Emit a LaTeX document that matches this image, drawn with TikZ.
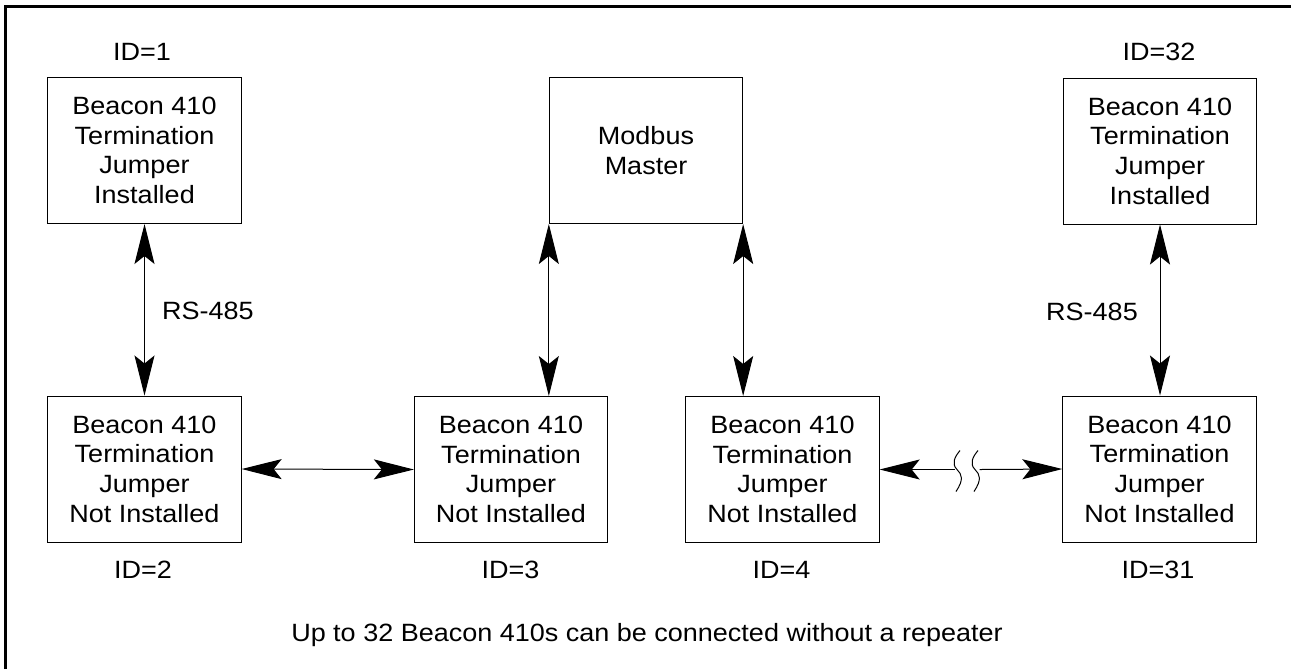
\documentclass[tikz,border=0pt]{standalone}
\usepackage{fontspec}
\setmainfont{Liberation Sans}[FakeStretch=1.08]
\usetikzlibrary{arrows.meta}

\tikzset{every picture/.style={line width=0.75pt}}
\tikzset{
  unitbox/.style={draw, minimum width=145pt, minimum height=109.5pt, inner sep=0pt, align=center, font=\fontsize{18.75}{22.3}\selectfont},
  lbl/.style={anchor=base, inner sep=0pt, font=\fontsize{18.75}{22.3}\selectfont},
  link/.style={{Stealth[length=30pt,width=15pt,inset=6pt]}-{Stealth[length=30pt,width=15pt,inset=6pt]}},
  frameline/.style={line width=2.25pt},
}

\begin{document}
\begin{tikzpicture}[x=0.75pt,y=0.75pt,yscale=-1,xscale=1]
\useasboundingbox (0,0) rectangle (1291,669);

%Frame (right and bottom sides fall outside the page)
\draw [frameline] (5.5,669) -- (5.5,6.5) -- (1291,6.5) ;

% Boxes
\node [unitbox] (b1) at (144.5,150.5) {Beacon 410\\Termination\\Jumper\\Installed};
\node [unitbox] (master) at (646,150.5) {Modbus\\Master};
\node [unitbox] (b32) at (1160,151) {Beacon 410\\Termination\\Jumper\\Installed};
\node [unitbox] (b2) at (144.5,469) {Beacon 410\\Termination\\Jumper\\Not Installed};
\node [unitbox] (b3) at (511,469.5) {Beacon 410\\Termination\\Jumper\\Not Installed};
\node [unitbox] (b4) at (782.5,469.5) {Beacon 410\\Termination\\Jumper\\Not Installed};
\node [unitbox] (b31) at (1159.5,469) {Beacon 410\\Termination\\Jumper\\Not Installed};

%Straight Lines
\draw [link] (b1.south) -- (b2.north) ;
\draw [link] (b32.south) -- (b32.south |- b31.north) ;
\draw [link] (master.south west) -- (master.south west |- b3.north) ;
\draw [link] (master.south east) -- (master.south east |- b4.north) ;
\draw [link] (b2.east) -- (b3.west) ;

%Broken line with break marks
\coordinate (brk) at (969.5,469.5) ;
\coordinate (brkL) at ([shift={(-14.5,0)}]brk) ;
\coordinate (brkR) at ([shift={(10,0)}]brk) ;
\draw [{Stealth[length=30pt,width=15pt,inset=6pt]}-] (b4.east) -- (brkL) ;
\draw [-{Stealth[length=30pt,width=15pt,inset=6pt]}] (brkR) -- (b31.west) ;
\foreach \s in {-12.5,5.5} {
  \draw [shift={(brk)}, shift={(\s,0)}] (3,-19) .. controls (-2,-13) and (-6,-6) .. (0,0) .. controls (5,5) and (7,10) .. (-1,22) ;
}

% Text Node
\node [lbl] (id1) at (142,60) {ID=1};
\node [lbl] (id32) at (1159,60) {ID=32};
\node [lbl] (id2) at (143,578) {ID=2};
\node [lbl] (id3) at (510.5,578) {ID=3};
\node [lbl] (id4) at (781.5,578) {ID=4};
\node [lbl] (id31) at (1158,578) {ID=31};
\node [lbl] (rsL) at (208,319) {RS-485};
\node [lbl] (rsR) at (1092,320) {RS-485};
\node [lbl] (note) at (647,641.5) {Up to 32 Beacon 410s can be connected without a repeater};

\end{tikzpicture}
\end{document}
